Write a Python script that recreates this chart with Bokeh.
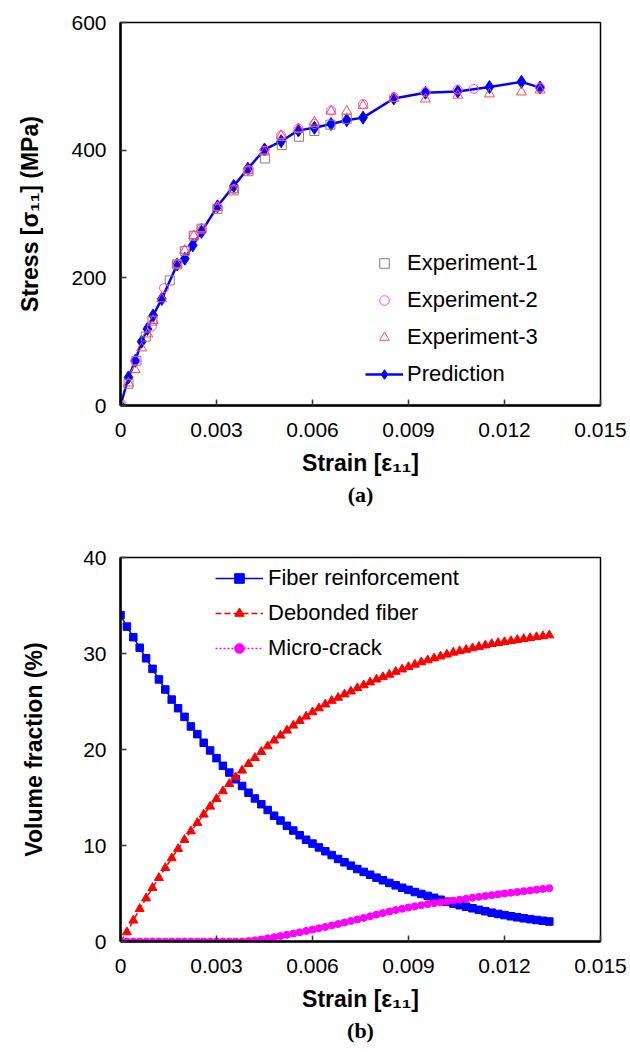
from bokeh.plotting import figure
from bokeh.layouts import column
from bokeh.models import FixedTicker, Legend, LegendItem, Title, Range1d
from bokeh.embed import file_html
from bokeh.resources import INLINE

# ---------------- (a) stress-strain data ----------------
pred_strain = [0, 0.00025, 0.00046, 0.00066, 0.00084, 0.00102, 0.00129, 0.00177, 0.00201,
               0.00226, 0.00253, 0.00303, 0.00354, 0.00398, 0.0045, 0.00502, 0.00556, 0.00606,
               0.00658, 0.00707, 0.00758, 0.00854, 0.00953, 0.01054, 0.01153, 0.01253, 0.01311]
pred_stress = [0, 44, 70, 100, 120, 141, 167, 221, 230, 251, 272, 312, 344, 371, 401, 414,
               431, 435, 441, 447, 451, 481, 490, 492, 499, 507, 498]

exp1_strain = [0, 0.00025, 0.0005, 0.00079, 0.001, 0.00154, 0.00177, 0.00201, 0.00229, 0.00253,
               0.00303, 0.00354, 0.004, 0.00452, 0.00504, 0.00558, 0.00606, 0.00656, 0.00707]
exp1_stress = [0, 34, 70, 108, 133, 196, 221, 242, 266, 277, 308, 337, 367, 387, 408, 421,
               430, 440, 449]

exp2_strain = [0, 0.00046, 0.00098, 0.00136, 0.00177, 0.00201, 0.00229, 0.00253, 0.00303,
               0.00354, 0.004, 0.0045, 0.00502, 0.00556, 0.00606, 0.00658, 0.00758, 0.00854,
               0.00953, 0.01054, 0.01104, 0.01311]
exp2_stress = [0, 70, 124, 184, 222, 243, 266, 277, 311, 339, 369, 399, 423, 434, 441, 462,
               472, 483, 491, 495, 496, 498]

exp3_strain = [0, 0.00025, 0.00046, 0.00066, 0.00085, 0.00102, 0.00129, 0.00177, 0.00201,
               0.00229, 0.00253, 0.00303, 0.00354, 0.00398, 0.0045, 0.00502, 0.00556, 0.00606,
               0.00658, 0.00707, 0.00758, 0.00854, 0.00953, 0.01054, 0.01153, 0.01253, 0.01311]
exp3_stress = [0, 35, 56, 90, 112, 133, 167, 221, 243, 266, 277, 310, 338, 368, 397, 423,
               433, 444, 461, 461, 470, 481, 480, 486, 488, 491, 494]

# ---------------- (b) volume fraction data ----------------
vf_strain = [0, 0.0002, 0.0004, 0.0006, 0.0008, 0.001, 0.0012, 0.0014, 0.0016, 0.0018,
             0.002, 0.0022, 0.0024, 0.0026, 0.0028, 0.003, 0.0032, 0.0034, 0.0036, 0.0038,
             0.004, 0.0042, 0.0044, 0.0046, 0.0048, 0.005, 0.0052, 0.0054, 0.0056, 0.0058,
             0.006, 0.0062, 0.0064, 0.0066, 0.0068, 0.007, 0.0072, 0.0074, 0.0076, 0.0078,
             0.008, 0.0082, 0.0084, 0.0086, 0.0088, 0.009, 0.0092, 0.0094, 0.0096, 0.0098,
             0.01, 0.0102, 0.0104, 0.0106, 0.0108, 0.011, 0.0112, 0.0114, 0.0116, 0.0118,
             0.012, 0.0122, 0.0124, 0.0126, 0.0128, 0.013, 0.0132, 0.0134]
fiber = [34.0, 32.8, 31.7, 30.6, 29.5, 28.4, 27.3, 26.25, 25.2, 24.3,
         23.4, 22.4, 21.6, 20.7, 19.9, 19.1, 18.3, 17.6, 16.9, 16.2,
         15.5, 14.9, 14.3, 13.7, 13.1, 12.6, 12.05, 11.56, 11.07, 10.6,
         10.2, 9.8, 9.4, 9.0, 8.6, 8.25, 7.9, 7.55, 7.25, 6.95,
         6.65, 6.38, 6.1, 5.85, 5.6, 5.38, 5.15, 4.95, 4.75, 4.55,
         4.35, 4.15, 3.95, 3.78, 3.62, 3.46, 3.3, 3.15, 3.0, 2.87,
         2.75, 2.63, 2.52, 2.42, 2.33, 2.24, 2.16, 2.08]
debonded = [0, 0.97, 2.19, 3.4, 4.5, 5.59, 6.63, 7.67, 8.68, 9.65,
            10.59, 11.49, 12.36, 13.23, 14.06, 14.86, 15.66, 16.42, 17.12, 17.81,
            18.5, 19.13, 19.76, 20.35, 20.94, 21.46, 21.98, 22.5, 22.99, 23.44,
            23.89, 24.3, 24.7, 25.08, 25.4, 25.75, 26.05, 26.4, 26.7, 27.0,
            27.3, 27.55, 27.8, 28.1, 28.35, 28.6, 28.85, 29.1, 29.3, 29.5,
            29.7, 29.9, 30.1, 30.25, 30.4, 30.55, 30.7, 30.85, 31.0, 31.1,
            31.2, 31.3, 31.42, 31.52, 31.62, 31.72, 31.81, 31.9]
microcrack = [0, 0, 0, 0, 0, 0, 0, 0, 0, 0,
              0, 0, 0, 0, 0, 0, 0, 0, 0, 0,
              0.05, 0.12, 0.22, 0.33, 0.45, 0.57, 0.7, 0.83, 0.96, 1.1,
              1.24, 1.38, 1.52, 1.67, 1.82, 1.98, 2.14, 2.3, 2.46, 2.62,
              2.8, 2.96, 3.12, 3.27, 3.41, 3.54, 3.66, 3.78, 3.89, 3.99,
              4.08, 4.17, 4.26, 4.36, 4.46, 4.56, 4.65, 4.74, 4.83, 4.92,
              5.0, 5.08, 5.16, 5.24, 5.32, 5.4, 5.48, 5.55]

x_ticks = [0, 0.003, 0.006, 0.009, 0.012, 0.015]
x_tick_labels = ["0", "0.003", "0.006", "0.009", "0.012", "0.015"]
top_y_ticks = [0, 200, 400, 600]
bot_y_ticks = [0, 10, 20, 30, 40]

FONT = "Liberation Sans"


def style(p, yticks, xlabel, ylabel, tag):
    p.xgrid.visible = False
    p.ygrid.visible = False
    p.outline_line_color = "black"
    p.outline_line_width = 1.5
    p.xaxis.ticker = FixedTicker(ticks=x_ticks)
    p.xaxis.major_label_overrides = {t: l for t, l in zip(x_ticks, x_tick_labels)}
    p.yaxis.ticker = FixedTicker(ticks=yticks)
    p.xaxis.axis_label = xlabel
    p.yaxis.axis_label = ylabel
    for ax in (p.xaxis[0], p.yaxis[0]):
        ax.axis_line_width = 2.5
        ax.axis_line_color = "black"
        ax.major_tick_in = 6
        ax.major_tick_out = 0
        ax.major_tick_line_width = 1.5
        ax.major_tick_line_color = "#333333"
        ax.minor_tick_line_color = None
        ax.major_label_text_font = FONT
        ax.major_label_text_font_size = "21px"
        ax.major_label_text_color = "black"
        ax.axis_label_text_font = FONT
        ax.axis_label_text_font_size = "23px"
        ax.axis_label_text_font_style = "bold"
        ax.axis_label_text_color = "black"
    p.xaxis.major_label_standoff = 17
    p.xaxis.axis_label_standoff = 10
    p.yaxis.major_label_standoff = 14
    p.yaxis.axis_label_standoff = 25
    t = Title(text=tag, align="center", text_font="Liberation Serif",
              text_font_size="22px", text_font_style="bold", text_color="black",
              standoff=2)
    p.add_layout(t, "below")


# ---------------- figure (a) ----------------
pa = figure(width=630, height=535, output_backend="svg", toolbar_location=None,
            x_range=Range1d(0, 0.015), y_range=Range1d(0, 600),
            min_border_left=118, min_border_right=30, min_border_top=22,
            min_border_bottom=130)
style(pa, top_y_ticks, "Strain [ε₁₁]", "Stress [σ₁₁] (MPa)", "(a)")

pl = pa.line(pred_strain, pred_stress, line_color="#0000FF", line_width=2.5)
pm = pa.scatter(pred_strain, pred_stress, marker="diamond", size=13,
                fill_color="#0000FF", line_color="#0000FF")
r1 = pa.scatter(exp1_strain, exp1_stress, marker="square", size=9, fill_color=None,
                line_color="#808080", line_width=1)
r2 = pa.scatter(exp2_strain, exp2_stress, marker="circle", size=9, fill_color=None,
                line_color="#ff44ff", line_width=1)
r3 = pa.scatter(exp3_strain, exp3_stress, marker="triangle", size=10, fill_color=None,
                line_color="#ff4d4d", line_width=1)

leg_a = Legend(items=[LegendItem(label="Experiment-1", renderers=[r1]),
                      LegendItem(label="Experiment-2", renderers=[r2]),
                      LegendItem(label="Experiment-3", renderers=[r3]),
                      LegendItem(label="Prediction", renderers=[pl, pm])],
               location=(245, 18), border_line_color=None, background_fill_alpha=0,
               padding=0, margin=0, spacing=11, label_height=24, glyph_height=24,
               glyph_width=38, label_standoff=4, label_text_font=FONT,
               label_text_font_size="22px", label_text_color="black")
pa.add_layout(leg_a)

# ---------------- figure (b) ----------------
pb = figure(width=630, height=517, output_backend="svg", toolbar_location=None,
            x_range=Range1d(0, 0.015), y_range=Range1d(0, 40),
            min_border_left=120, min_border_right=30, min_border_top=22,
            min_border_bottom=111)
style(pb, bot_y_ticks, "Strain [ε₁₁]", "Volume fraction (%)", "(b)")
pb.yaxis.axis_label_standoff = 33

fl = pb.line(vf_strain, fiber, line_color="#0000FF", line_width=1.5)
fm = pb.scatter(vf_strain, fiber, marker="square", size=7.5, fill_color="#0000FF",
                line_color="#0000FF")
dl = pb.line(vf_strain, debonded, line_color="#ff0000", line_width=1.5, line_dash="6 3")
dm = pb.scatter(vf_strain, debonded, marker="triangle", size=9, fill_color="#ff0000",
                line_color="#ff0000")
ml = pb.line(vf_strain, microcrack, line_color="#ff00ff", line_width=1.5, line_dash="2 2")
mm = pb.scatter(vf_strain, microcrack, marker="circle", size=7, fill_color="#ff00ff",
                line_color="#ff00ff")

leg_b = Legend(items=[LegendItem(label="Fiber reinforcement", renderers=[fl, fm]),
                      LegendItem(label="Debonded fiber", renderers=[dl, dm]),
                      LegendItem(label="Micro-crack", renderers=[ml, mm])],
               location=(95, 280), border_line_color=None, background_fill_alpha=0,
               padding=0, margin=0, spacing=9, label_height=24, glyph_height=24,
               glyph_width=48, label_standoff=5, label_text_font=FONT,
               label_text_font_size="22px", label_text_color="black")
pb.add_layout(leg_b)

layout = column(pa, pb, spacing=0)
open("out.html", "w").write(file_html(layout, INLINE))
